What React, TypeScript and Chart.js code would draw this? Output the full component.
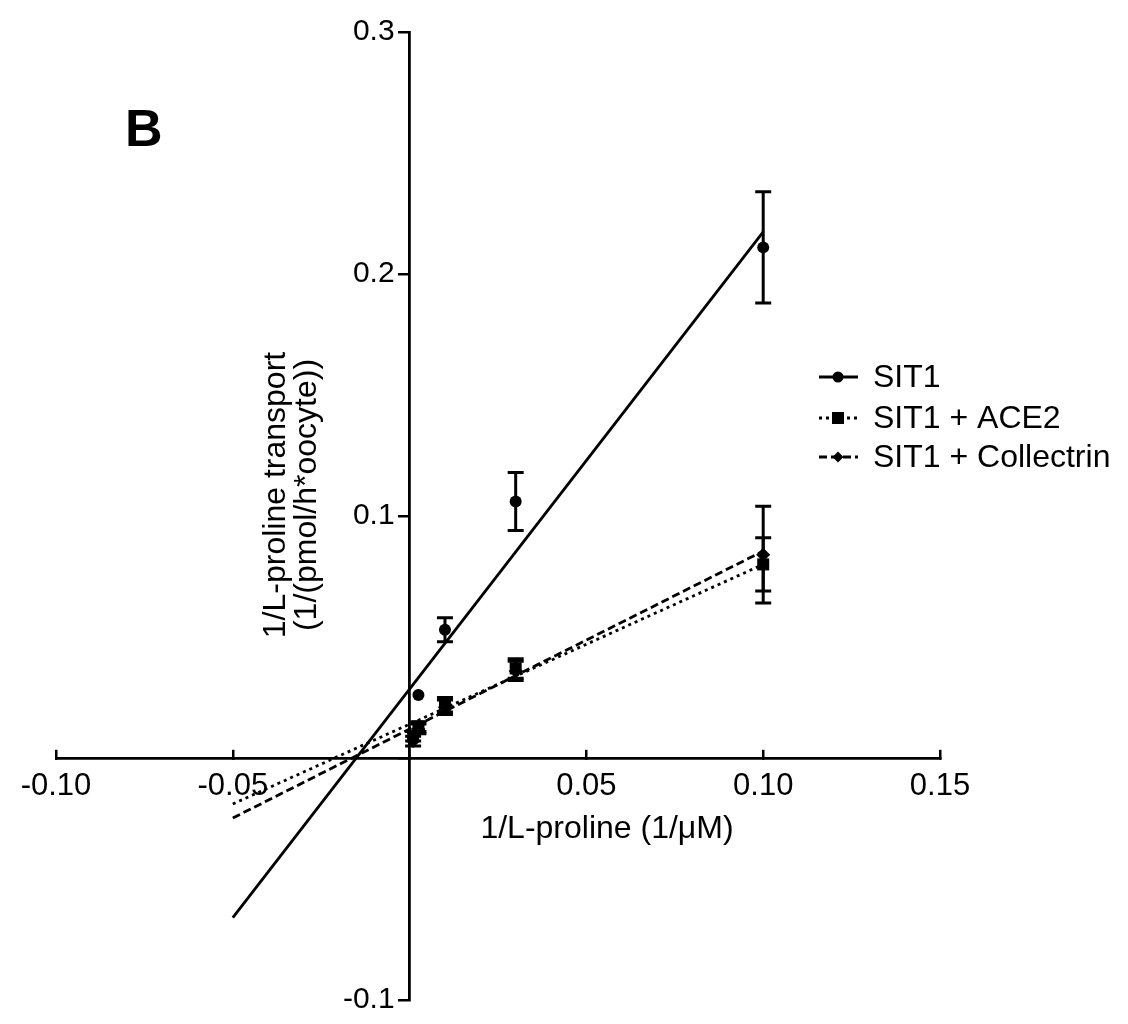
import React, { useEffect, useRef } from 'react';
import { Chart, registerables } from 'chart.js';

Chart.register(...registerables);

// ---- data ----
const concX = [0.1, 0.03, 0.01, 0.0025, 0.001];
const sit1X = [0.1, 0.03, 0.01, 0.0025];
const sit1Mean = [0.211, 0.106, 0.053, 0.026];
const sit1Err = [0.023, 0.012, 0.005, 0];
const ace2Mean = [0.080, 0.037, 0.022, 0.013, 0.009];
const ace2Err = [0.011, 0.004, 0.003, 0.002, 0.002];
const collMean = [0.084, 0.036, 0.021, 0.012, 0.007];
const collErr = [0.020, 0.004, 0.003, 0.002, 0.002];
const fitX = [-0.05, 0.1];
const sit1Fit = [-0.066, 0.2174];
const ace2Fit = [-0.019, 0.080];
const collFit = [-0.0248, 0.0855];
const xTicks = [-0.1, -0.05, 0, 0.05, 0.1, 0.15];
const yTicks = [-0.1, 0, 0.1, 0.2, 0.3];
const seriesLabels = ['SIT1', 'SIT1 + ACE2', 'SIT1 + Collectrin'];
const xTitle = '1/L-proline (1/\u03bcM)';
const yTitle = ['1/L-proline transport', '(1/(pmol/h*oocyte))'];
const panelLabel = 'B';

const FONT = "'Liberation Sans', Arial, Helvetica, sans-serif";
const dashes = [[], [3, 4], [8, 4]];
const styles = ['circle', 'rect', 'rectRot'];
const radii = [6, 8.5, 7];

const zip = (xs: number[], ys: number[]) => xs.map((x, i) => ({ x, y: ys[i] }));

const errorBarPlugin = {
  id: 'errorBars',
  afterDatasetsDraw(chart: any) {
    const ctx = chart.ctx;
    const yScale = chart.scales.y;
    ctx.save();
    ctx.strokeStyle = '#000';
    ctx.lineWidth = 3;
    chart.data.datasets.forEach((ds: any, i: number) => {
      if (!ds.errors) return;
      const meta = chart.getDatasetMeta(i);
      meta.data.forEach((el: any, j: number) => {
        const e = ds.errors[j];
        if (!e) return;
        const v = ds.data[j].y;
        const top = yScale.getPixelForValue(v + e);
        const bot = yScale.getPixelForValue(v - e);
        const x = el.x;
        ctx.beginPath();
        ctx.moveTo(x, top);
        ctx.lineTo(x, bot);
        ctx.moveTo(x - 8, top);
        ctx.lineTo(x + 8, top);
        ctx.moveTo(x - 8, bot);
        ctx.lineTo(x + 8, bot);
        ctx.stroke();
      });
    });
    ctx.restore();
  },
};

const annotationsPlugin = {
  id: 'annotations',
  afterDraw(chart: any) {
    const ctx = chart.ctx;
    ctx.save();
    ctx.fillStyle = '#000';
    // panel label
    ctx.font = `bold 52px ${FONT}`;
    ctx.textAlign = 'left';
    ctx.textBaseline = 'alphabetic';
    ctx.fillText(panelLabel, 125, 146);
    // x title
    ctx.font = `32px ${FONT}`;
    ctx.textAlign = 'center';
    ctx.textBaseline = 'middle';
    ctx.fillText(xTitle, 607, 829);
    // y title
    ctx.save();
    ctx.translate(290, 495);
    ctx.rotate(-Math.PI / 2);
    ctx.fillText(yTitle[0], 0, -14);
    ctx.fillText(yTitle[1], 0, 17);
    ctx.restore();
    // legend
    const rows = [377, 418, 457];
    seriesLabels.forEach((lab, i) => {
      const y = rows[i];
      ctx.save();
      ctx.strokeStyle = '#000';
      ctx.lineWidth = 3;
      ctx.setLineDash(dashes[i]);
      ctx.beginPath();
      ctx.moveTo(819, y);
      ctx.lineTo(858, y);
      ctx.stroke();
      ctx.restore();
      ctx.beginPath();
      if (i === 0) {
        ctx.arc(838, y, 5.5, 0, Math.PI * 2);
      } else if (i === 1) {
        ctx.rect(832, y - 6, 12, 12);
      } else {
        ctx.moveTo(838, y - 5.5);
        ctx.lineTo(843.5, y);
        ctx.lineTo(838, y + 5.5);
        ctx.lineTo(832.5, y);
        ctx.closePath();
      }
      ctx.fill();
      ctx.font = `32px ${FONT}`;
      ctx.textAlign = 'left';
      ctx.textBaseline = 'middle';
      ctx.fillText(lab, 873, y + 1);
    });
    ctx.restore();
  },
};

export default function App() {
  const ref = useRef<HTMLCanvasElement | null>(null);
  useEffect(() => {
    document.body.style.margin = '0';
    if (!ref.current) return;
    const pointSets = [
      { x: sit1X, m: sit1Mean, e: sit1Err },
      { x: concX, m: ace2Mean, e: ace2Err },
      { x: concX, m: collMean, e: collErr },
    ];
    const fits = [sit1Fit, ace2Fit, collFit];
    const datasets: any[] = [];
    fits.forEach((f, i) => {
      datasets.push({
        label: seriesLabels[i] + ' fit',
        data: zip(fitX, f),
        showLine: true,
        borderColor: '#000',
        borderWidth: 2.8,
        borderDash: dashes[i],
        pointRadius: 0,
        fill: false,
      });
    });
    pointSets.forEach((p, i) => {
      datasets.push({
        label: seriesLabels[i],
        data: zip(p.x, p.m),
        errors: p.e,
        showLine: false,
        pointStyle: styles[i],
        pointRadius: radii[i],
        backgroundColor: '#000',
        borderColor: '#000',
        borderWidth: 0,
      });
    });
    const chart = new Chart(ref.current, {
      type: 'scatter',
      data: { datasets },
      options: {
        responsive: false,
        animation: false,
        layout: { padding: { left: 56, right: 188, top: 32, bottom: 24 } },
        plugins: { legend: { display: false }, tooltip: { enabled: false } },
        scales: {
          x: {
            type: 'linear',
            min: -0.1,
            max: 0.15,
            position: { y: 0 } as any,
            afterFit(s: any) { s.height = 0; },
            afterBuildTicks(s: any) { s.ticks = xTicks.map((v) => ({ value: v })); },
            ticks: {
              color: '#000',
              font: { family: FONT, size: 31 },
              padding: 20,
              maxRotation: 0,
              autoSkip: false,
              callback: (v: any) => (Math.abs(Number(v)) < 1e-9 ? '' : Number(v).toFixed(2)),
            },
            grid: { drawOnChartArea: false, color: '#000', lineWidth: 2.5, tickLength: -10 },
            border: { color: '#000', width: 2.8 },
          },
          y: {
            type: 'linear',
            min: -0.1,
            max: 0.3,
            position: { x: 0 } as any,
            afterFit(s: any) { s.width = 0; },
            afterBuildTicks(s: any) { s.ticks = yTicks.map((v) => ({ value: v })); },
            ticks: {
              color: '#000',
              font: { family: FONT, size: 30 },
              autoSkip: false,
              callback: (v: any) => (Math.abs(Number(v)) < 1e-9 ? '' : Number(v).toFixed(1) + '\u2002'),
            },
            grid: { drawOnChartArea: false, color: '#000', lineWidth: 2.5, tickLength: 10 },
            border: { color: '#000', width: 2.8 },
          },
        },
      },
      plugins: [errorBarPlugin, annotationsPlugin],
    });
    return () => chart.destroy();
  }, []);
  return <canvas ref={ref} width={1128} height={1024} style={{ display: 'block' }} />;
}
